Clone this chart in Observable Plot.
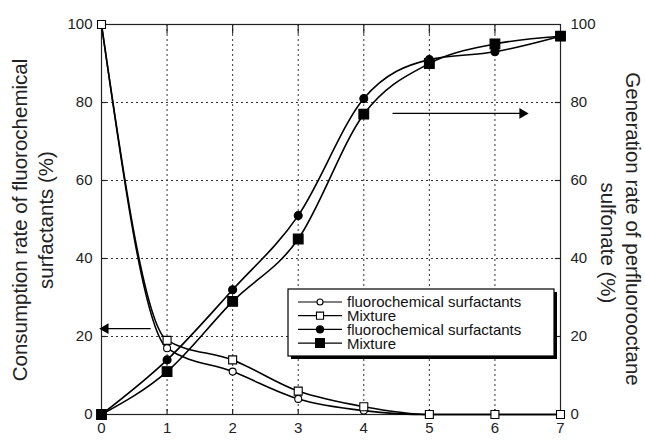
<!DOCTYPE html>
<html><head><meta charset="utf-8">
<script src="https://cdn.jsdelivr.net/npm/d3@7"></script>
<script src="https://cdn.jsdelivr.net/npm/@observablehq/plot@0.6"></script>
<style>
body{margin:0;background:#fff;}
#chart{position:relative;width:645px;height:440px;font-family:"Liberation Sans",Arial,sans-serif;}
</style>
</head><body><div id="chart"></div>
<script>
const times = [0, 1, 2, 3, 4, 5, 6, 7];
const consFluoro = [100, 17, 11, 4, 1, 0, 0, 0];
const consMix = [100, 19, 14, 6, 2, 0, 0, 0];
const genFluoro = [0, 14, 32, 51, 81, 91, 93, 97];
const genMix = [0, 11, 29, 45, 77, 90, 95, 97];
const xTicks = [0, 1, 2, 3, 4, 5, 6, 7];
const yTicks = [0, 20, 40, 60, 80, 100];
const leftTitle = ["Consumption rate of fluorochemical", "surfactants (%)"];
const rightTitle = ["Generation rate of perfluorooctane", "sulfonate (%)"];
const legendLabels = ["fluorochemical surfactants", "Mixture", "fluorochemical surfactants", "Mixture"];
const arrowX1 = [0.75, 4.44];
const arrowX2 = [0.06, 6.42];
const arrowY = [22, 77.2];

const series = [
  {name: legendLabels[0], values: consFluoro, symbol: "circle", fill: "white", r: 3.5},
  {name: legendLabels[1], values: consMix, symbol: "square", fill: "white", r: 4.5},
  {name: legendLabels[2], values: genFluoro, symbol: "circle", fill: "black", r: 4},
  {name: legendLabels[3], values: genMix, symbol: "square", fill: "black", r: 5.5}
];
const rows = series.flatMap((s, i) => times.map((t, j) => ({t, v: s.values[j], k: i})));
const arrows = arrowX1.map((x1, i) => ({x1, x2: arrowX2[i], y: arrowY[i], dir: x1 > arrowX2[i] ? -1 : 1}));
const innerX = xTicks.slice(1, -1);
const innerY = yTicks.slice(1, -1);

const W = 645, H = 440, mL = 101, mR = 85, mT = 24, mB = 26;
const fmt = d3.format("d");
const marks = [
  Plot.gridX(innerX, {stroke: "#333", strokeOpacity: 1, strokeDasharray: "2,3"}),
  Plot.gridY(innerY, {stroke: "#333", strokeOpacity: 1, strokeDasharray: "2,3"}),
  Plot.ruleX(innerX, {x: d => d, y1: 97.5, y2: 100, stroke: "#222", strokeWidth: 1.2}),
  Plot.ruleX(innerX, {x: d => d, y1: 0, y2: 1.3, stroke: "#222", strokeWidth: 1.2}),
  Plot.ruleY(innerY, {y: d => d, x1: 0, x2: 0.08, stroke: "#222", strokeWidth: 1.2}),
  Plot.ruleY(innerY, {y: d => d, x1: 6.92, x2: 7, stroke: "#222", strokeWidth: 1.2}),
  Plot.frame({stroke: "#222", strokeWidth: 1.2}),
  Plot.axisX({ticks: xTicks, tickSize: 0, tickPadding: 8, fontSize: 15, tickFormat: fmt, label: null}),
  Plot.axisY({ticks: yTicks, tickSize: 0, tickPadding: 9, fontSize: 15, tickFormat: fmt, label: null}),
  Plot.axisY({ticks: yTicks, anchor: "right", tickSize: 0, tickPadding: 10, fontSize: 15, tickFormat: fmt, label: null})
];
series.forEach((s, i) => {
  const d = rows.filter(r => r.k === i);
  marks.push(Plot.line(d, {x: "t", y: "v", curve: "monotone-x", stroke: "black", strokeWidth: 1.6}));
});
series.forEach((s, i) => {
  const d = rows.filter(r => r.k === i);
  marks.push(Plot.dot(d, {x: "t", y: "v", symbol: s.symbol, r: s.r, fill: s.fill, stroke: "black", strokeWidth: 1.1}));
});
marks.push(Plot.link(arrows, {x1: "x1", x2: "x2", y1: "y", y2: "y", stroke: "black", strokeWidth: 1.2}));
marks.push(Plot.dot(arrows, {x: "x2", y: "y", symbol: "triangle", r: 4, fill: "black", stroke: "none",
  rotate: d => d.dir * 90}));

const plot = Plot.plot({
  width: W, height: H,
  marginLeft: mL, marginRight: mR, marginTop: mT, marginBottom: mB,
  style: {fontFamily: '"Liberation Sans", Arial, sans-serif', color: "#222", background: "white"},
  x: {domain: [0, 7]},
  y: {domain: [0, 100]},
  symbol: {domain: ["circle", "square", "triangle"], range: ["circle", "square", "triangle"]},
  marks
});
document.getElementById("chart").appendChild(plot);

const svg = d3.select(plot);
// axis titles
const lt = svg.append("g").attr("fill", "#222").attr("text-anchor", "middle").style("font-size", "20.5px");
lt.append("text").attr("transform", "translate(27,220) rotate(-90)").text(leftTitle[0]);
lt.append("text").attr("transform", "translate(53,220) rotate(-90)").text(leftTitle[1]);
lt.append("text").attr("transform", "translate(626,229) rotate(90)").text(rightTitle[0]);
lt.append("text").attr("transform", "translate(601,243) rotate(90)").text(rightTitle[1]);

// legend
const lg = svg.append("g").attr("text-anchor", "start");
const bx = 288, by = 289, bw = 266, bh = 67;
lg.append("rect").attr("x", bx + 3).attr("y", by + 3).attr("width", bw).attr("height", bh).attr("fill", "black");
lg.append("rect").attr("x", bx).attr("y", by).attr("width", bw).attr("height", bh).attr("fill", "white").attr("stroke", "black").attr("stroke-width", 1.2);
series.forEach((s, i) => {
  const yy = by + 13 + i * 13.7;
  lg.append("line").attr("x1", bx + 10).attr("x2", bx + 54).attr("y1", yy).attr("y2", yy).attr("stroke", "black").attr("stroke-width", 1.2);
  const sym = s.symbol === "circle" ? d3.symbolCircle : d3.symbolSquare;
  lg.append("path").attr("d", d3.symbol(sym, Math.PI * (s.r - 0.5) * (s.r - 0.5))())
    .attr("transform", `translate(${bx + 32},${yy})`).attr("fill", s.fill).attr("stroke", "black").attr("stroke-width", 1.1);
  lg.append("text").attr("x", bx + 59).attr("y", yy).attr("dy", "0.36em").attr("fill", "#111").style("font-size", "15px").text(s.name);
});
</script>
</body></html>
